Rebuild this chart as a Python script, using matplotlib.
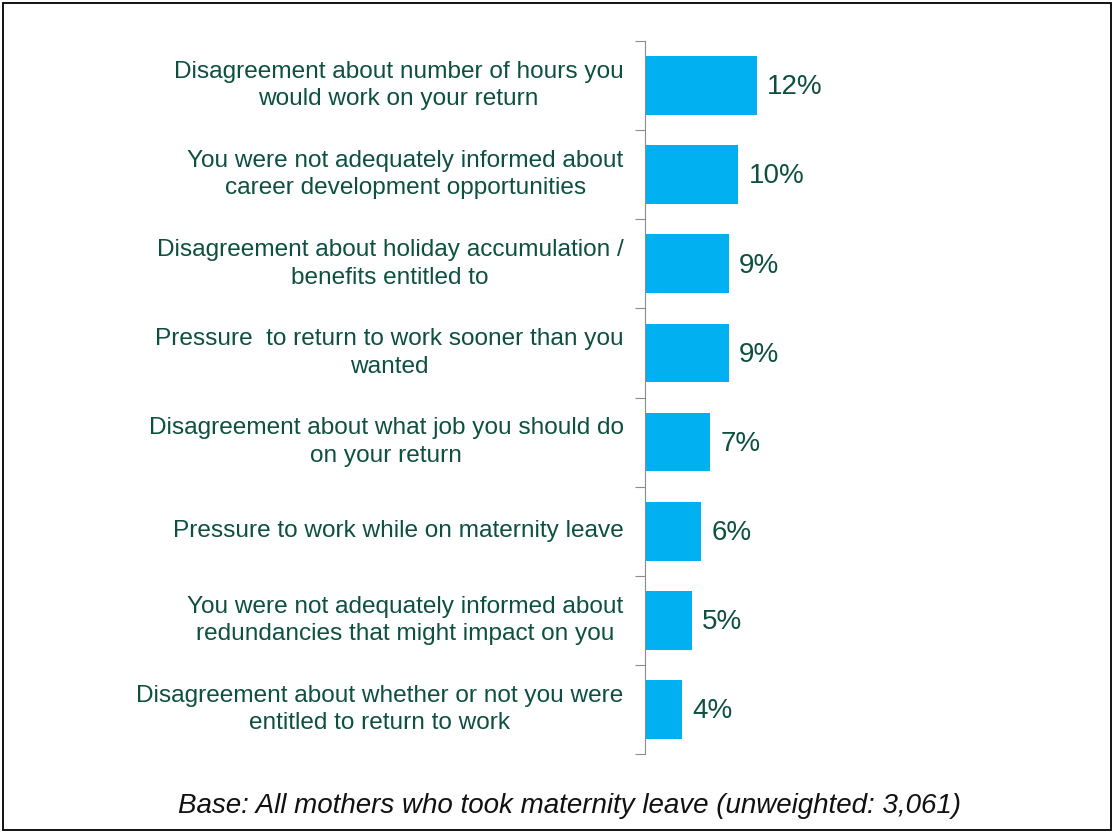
import numpy as np
import matplotlib
matplotlib.use('Agg')
import matplotlib.pyplot as plt
from matplotlib.patches import Rectangle

labels = [
    'Disagreement about number of hours you\nwould work on your return',
    'You were not adequately informed about\ncareer development opportunities',
    'Disagreement about holiday accumulation /\nbenefits entitled to',
    'Pressure  to return to work sooner than you\nwanted',
    'Disagreement about what job you should do\non your return',
    'Pressure to work while on maternity leave',
    'You were not adequately informed about\nredundancies that might impact on you',
    'Disagreement about whether or not you were\nentitled to return to work',
]
values = [12, 10, 9, 9, 7, 6, 5, 4]
note = 'Base: All mothers who took maternity leave (unweighted: 3,061)'

plt.rcParams['font.family'] = ['Liberation Sans', 'DejaVu Sans']
green = '#0d5040'
bar_col = '#00b0f0'

fig = plt.figure(figsize=(11.15, 8.32), dpi=100, facecolor='white')
ax = fig.add_axes([645 / 1115, 1 - 754 / 832, 430 / 1115, 713 / 832])

n = len(values)
y = np.arange(n)
ax.barh(y, values, height=0.66, color=bar_col)
ax.set_ylim(n - 0.5, -0.5)
ax.set_xlim(0, 430 / 9.33)

for yi, v, lab in zip(y, values, labels):
    ax.text(v + 1.1, yi + 0.02, f'{v}%', va='center', ha='left', fontsize=20, color=green)
    ax.text(-2.3, yi, lab, va='center', ha='right', multialignment='center',
            fontsize=17.6, color=green, linespacing=1.32)

for s in ['top', 'right', 'bottom']:
    ax.spines[s].set_visible(False)
ax.spines['left'].set_color('#8c8c8c')
ax.set_xticks([])
ax.set_yticks(np.arange(-0.5, n, 1))
ax.set_yticklabels([])
ax.tick_params(axis='y', length=7, color='#8c8c8c', direction='out')

fig.text(569 / 1115, 1 - 806 / 832, note, ha='center', va='center',
         fontsize=20, style='italic', color='#111111')

fig.patches.append(Rectangle((3 / 1115, 2 / 832), 1108 / 1115, 827 / 832,
                             transform=fig.transFigure, fill=False,
                             edgecolor='black', linewidth=1.3))

fig.savefig('out.png', dpi=100, facecolor='white')
